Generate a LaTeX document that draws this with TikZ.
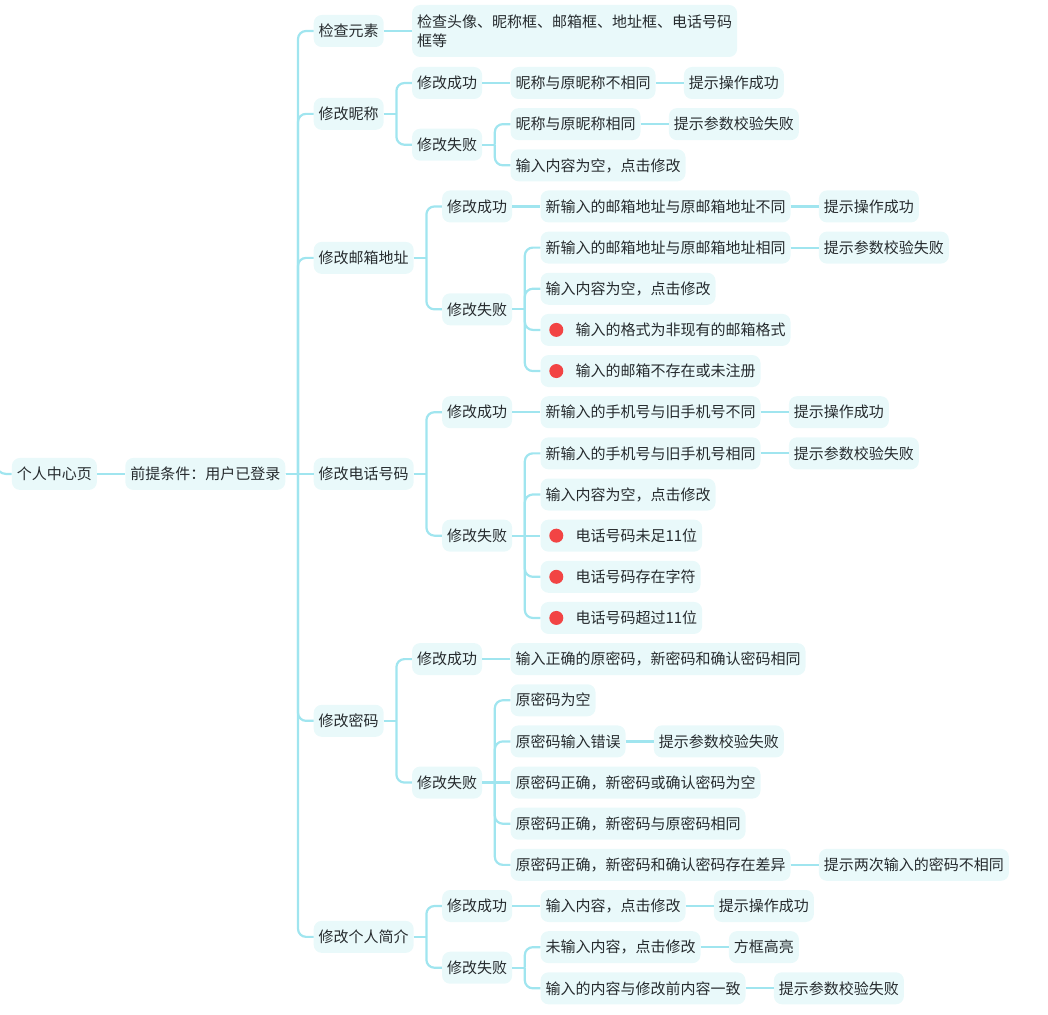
\documentclass[tikz,border=0pt]{standalone}
\usepackage{fontspec}
\setmainfont{Noto Sans CJK SC}
\definecolor{fillc}{HTML}{E9F9FA}
\definecolor{linec}{HTML}{A0E5EF}
\definecolor{textc}{HTML}{262B2E}
\definecolor{dotc}{HTML}{F24444}
\tikzset{
  basebox/.style={fill=fillc, rounded corners=8pt, text=textc,
    font=\fontsize{15}{19}\selectfont, inner xsep=5pt, inner ysep=0pt},
  box/.style={basebox, minimum height=32pt, text height=12.5pt, text depth=1.1pt},
  boxtwo/.style={basebox, align=left, minimum height=52pt},
  conn/.style={draw=linec, line width=2.2pt},
}
\newcommand\mmkid[5][box]{%
  \path (#2.east) ++(28,0) coordinate (tmpk);
  \node[#1,anchor=west] (#3) at (tmpk |- 0,#4) {#5};
  \draw[conn] (#2.east) -- ++(12.5,0) coordinate (jk);
  \draw[conn,rounded corners=8pt] (jk) |- (#3.west);
}
\newcommand\mmkidS[4][box]{%
  \node[#1,anchor=west] (#3) at ([xshift=28pt]#2.east) {#4};
  \draw[conn] (#2.east) -- (#3.west);
}
\newcommand\mmdot[1]{\fill[dotc] ([xshift=16pt]#1.west) circle (7pt);}
\begin{document}
\begin{tikzpicture}[x=1pt,y=-1pt]
\useasboundingbox (0,0) rectangle (1048,1014);
\node[box,anchor=west] (root) at (11.7,473.925) {个人中心页};
\draw[conn,rounded corners=10pt] (-4,430) |- (root.west);
\mmkidS{root}{pre}{前提条件：用户已登录}
% level 2
\mmkid{pre}{chk}{31}{检查元素}
\mmkid{pre}{nick}{113.86}{修改昵称}
\mmkid{pre}{mail}{257.89}{修改邮箱地址}
\mmkidS{pre}{tel}{修改电话号码}
\mmkid{pre}{pwd}{720.825}{修改密码}
\mmkid{pre}{bio}{936.86}{修改个人简介}
% check
\mmkidS[boxtwo]{chk}{chkd}{检查头像、昵称框、邮箱框、地址框、电话号码\\框等}
% nickname
\mmkid{nick}{ns}{83}{修改成功}
\mmkid{nick}{nf}{144.725}{修改失败}
\mmkidS{ns}{ns1}{昵称与原昵称不相同}
\mmkidS{ns1}{ns2}{提示操作成功}
\mmkid{nf}{nf1}{124.15}{昵称与原昵称相同}
\mmkidS{nf1}{nf1a}{提示参数校验失败}
\mmkid{nf}{nf2}{165.3}{输入内容为空，点击修改}
% mail
\mmkid{mail}{ms}{206.45}{修改成功}
\mmkid{mail}{mf}{309.325}{修改失败}
\mmkidS{ms}{ms1}{新输入的邮箱地址与原邮箱地址不同}
\mmkidS{ms1}{ms2}{提示操作成功}
\mmkid{mf}{mf1}{247.6}{新输入的邮箱地址与原邮箱地址相同}
\mmkidS{mf1}{mf1a}{提示参数校验失败}
\mmkid{mf}{mf2}{288.75}{输入内容为空，点击修改}
\mmkid{mf}{mf3}{329.9}{\hspace{30pt}输入的格式为非现有的邮箱格式}
\mmdot{mf3}
\mmkid{mf}{mf4}{371.05}{\hspace{30pt}输入的邮箱不存在或未注册}
\mmdot{mf4}
% tel
\mmkid{tel}{ts}{412.2}{修改成功}
\mmkid{tel}{tf}{535.65}{修改失败}
\mmkidS{ts}{ts1}{新输入的手机号与旧手机号不同}
\mmkidS{ts1}{ts2}{提示操作成功}
\mmkid{tf}{tf1}{453.35}{新输入的手机号与旧手机号相同}
\mmkidS{tf1}{tf1a}{提示参数校验失败}
\mmkid{tf}{tf2}{494.5}{输入内容为空，点击修改}
\mmkidS{tf}{tf3}{\hspace{30pt}电话号码未足11位}
\mmdot{tf3}
\mmkid{tf}{tf4}{576.8}{\hspace{30pt}电话号码存在字符}
\mmdot{tf4}
\mmkid{tf}{tf5}{617.95}{\hspace{30pt}电话号码超过11位}
\mmdot{tf5}
% password
\mmkid{pwd}{ps}{659.1}{修改成功}
\mmkid{pwd}{pf}{782.55}{修改失败}
\mmkidS{ps}{ps1}{输入正确的原密码，新密码和确认密码相同}
\mmkid{pf}{pf1}{700.25}{原密码为空}
\mmkid{pf}{pf2}{741.4}{原密码输入错误}
\mmkidS{pf2}{pf2a}{提示参数校验失败}
\mmkidS{pf}{pf3}{原密码正确，新密码或确认密码为空}
\mmkid{pf}{pf4}{823.7}{原密码正确，新密码与原密码相同}
\mmkid{pf}{pf5}{864.85}{原密码正确，新密码和确认密码存在差异}
\mmkidS{pf5}{pf5a}{提示两次输入的密码不相同}
% bio
\mmkid{bio}{bs}{906}{修改成功}
\mmkid{bio}{bf}{967.725}{修改失败}
\mmkidS{bs}{bs1}{输入内容，点击修改}
\mmkidS{bs1}{bs2}{提示操作成功}
\mmkid{bf}{bf1}{947.15}{未输入内容，点击修改}
\mmkidS{bf1}{bf1a}{方框高亮}
\mmkid{bf}{bf2}{988.3}{输入的内容与修改前内容一致}
\mmkidS{bf2}{bf2a}{提示参数校验失败}
\end{tikzpicture}
\end{document}
